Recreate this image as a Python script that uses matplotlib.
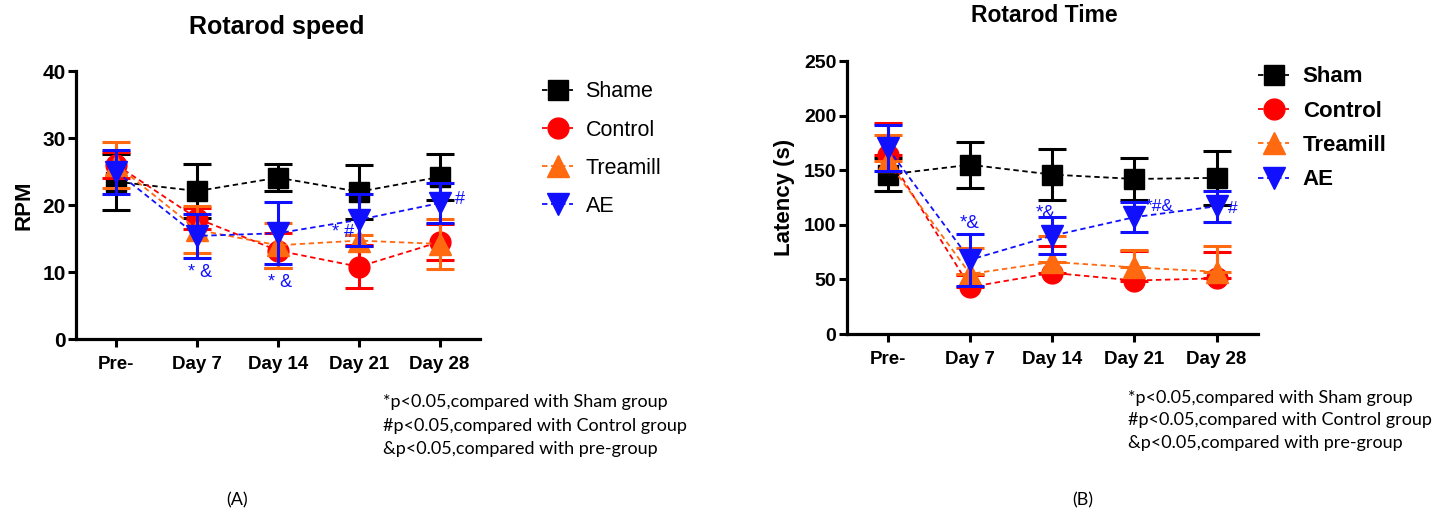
import matplotlib
matplotlib.use("Agg")
import matplotlib.pyplot as plt

days = ["Pre-", "Day 7", "Day 14", "Day 21", "Day 28"]
groups_a = ["Shame", "Control", "Treamill", "AE"]
groups_b = ["Sham", "Control", "Treamill", "AE"]

# Rotarod speed (RPM), mean and SD
rpm_sham = [23.5, 22.1, 24.1, 22.0, 24.2]
rpm_sham_sd = [4.2, 4.0, 2.0, 4.0, 3.5]
rpm_control = [26.0, 18.0, 13.2, 10.8, 14.5]
rpm_control_sd = [2.0, 1.5, 2.6, 3.2, 2.7]
rpm_tread = [26.0, 16.3, 14.0, 14.7, 14.2]
rpm_tread_sd = [3.4, 3.5, 3.4, 0.8, 3.7]
rpm_ae = [25.0, 15.4, 15.8, 17.8, 20.3]
rpm_ae_sd = [3.3, 3.3, 4.6, 3.9, 3.0]

# Rotarod time (latency, s), mean and SD
lat_sham = [146, 155, 146, 142, 143]
lat_sham_sd = [15, 21, 23, 19, 25]
lat_control = [164, 43, 56, 49, 51]
lat_control_sd = [29, 11, 25, 27, 24]
lat_tread = [158, 55, 66, 61, 57]
lat_tread_sd = [24, 24, 24, 16, 24]
lat_ae = [170, 68, 90, 107, 117]
lat_ae_sd = [21, 24, 17, 14, 14]
no_lower = [0, 0, 0, 0, 0]

notes = ["*p<0.05,compared with Sham group",
         "#p<0.05,compared with Control group",
         "&p<0.05,compared with pre-group"]

colors = ["black", "#ff0000", "#ff6a10", "#1010ff"]
markers = ["s", "o", "^", "v"]
msizes = [15, 15, 16, 16]

plt.rcParams['font.family'] = ['Liberation Sans', 'DejaVu Sans']

fig = plt.figure(figsize=(14.45, 5.16), dpi=100)
ax_a = fig.add_axes([0.0526, 0.343, 0.2796, 0.519])
ax_b = fig.add_axes([0.586, 0.3527, 0.2844, 0.529])


def draw(ax, series, names, ymax, ystep, ylabel, ysize):
    handles = []
    x = list(range(len(days)))
    for (mean, err), c, m, ms, name in zip(series, colors, markers, msizes, names):
        ax.errorbar(x, mean, yerr=err, fmt='none', ecolor=c, elinewidth=2.2,
                    capsize=10, capthick=2.2)
        h, = ax.plot(x, mean, linestyle=(0, (3, 2)), linewidth=1.3, color=c,
                     marker=m, markersize=ms, label=name)
        handles.append(h)
    ax.set_xlim(-0.5, 4.5)
    ax.set_ylim(0, ymax)
    ax.set_yticks(range(0, ymax + 1, ystep))
    ax.set_xticks(x)
    ax.set_xticklabels(days)
    for s in ["top", "right"]:
        ax.spines[s].set_visible(False)
    for s in ["left", "bottom"]:
        ax.spines[s].set_linewidth(2.3)
    ax.tick_params(width=2.2, length=6)
    ax.tick_params(axis="x", labelsize=13.5, pad=6)
    ax.tick_params(axis="y", labelsize=ysize, pad=1.5)
    for lab in ax.get_xticklabels() + ax.get_yticklabels():
        lab.set_fontweight("bold")
    ax.set_ylabel(ylabel, fontsize=16, fontweight="bold")
    return handles


h_a = draw(ax_a, [(rpm_sham, rpm_sham_sd), (rpm_control, rpm_control_sd),
                  (rpm_tread, rpm_tread_sd), (rpm_ae, rpm_ae_sd)],
           groups_a, 40, 10, "RPM", 15)
h_b = draw(ax_b, [(lat_sham, lat_sham_sd),
                  (lat_control, [no_lower, lat_control_sd]),
                  (lat_tread, [no_lower, lat_tread_sd]),
                  (lat_ae, lat_ae_sd)],
           groups_b, 250, 50, "Latency (s)", 14)
ax_a.yaxis.set_label_coords(-0.103, 0.5)
ax_b.yaxis.set_label_coords(-0.126, 0.5)

fig.legend(handles=h_a, loc="upper left", bbox_to_anchor=(0.362, 0.88),
           frameon=False, fontsize=15.5, handlelength=1.4, labelspacing=0.8,
           handletextpad=0.6)
fig.legend(handles=h_b, loc="upper left", bbox_to_anchor=(0.857, 0.91),
           frameon=False, prop={"size": 16, "weight": "bold"},
           handlelength=1.4, labelspacing=0.6, handletextpad=0.6)

fig.text(277 / 1445, 1 - 27 / 516, "Rotarod speed", ha="center", va="center",
         fontsize=18, fontweight="bold")
fig.text(1044 / 1445, 1 - 16 / 516, "Rotarod Time", ha="center", va="center",
         fontsize=16.5, fontweight="bold")

blue = colors[3]
ax_a.text(1.04, 9.9, "* &", color=blue, ha="center", va="center", fontsize=13)
ax_a.text(2.03, 8.4, "* &", color=blue, ha="center", va="center", fontsize=13)
ax_a.text(2.8, 15.9, "* #", color=blue, ha="center", va="center", fontsize=13)
ax_a.text(4.25, 20.8, "#", color=blue, ha="center", va="center", fontsize=13)
ax_b.text(1.0, 101, "*&", color=blue, ha="center", va="center", fontsize=13.5)
ax_b.text(1.92, 110, "*&", color=blue, ha="center", va="center", fontsize=13.5)
ax_b.text(3.31, 117, "*#&", color=blue, ha="center", va="center", fontsize=12.5)
ax_b.text(4.2, 115, "#", color=blue, ha="center", va="center", fontsize=12.5)

for i, line in enumerate(notes):
    fig.text(383 / 1445, 1 - (402 + 23.5 * i) / 516, line, fontsize=13,
             family=["Lato", "DejaVu Sans"], va="center")
    fig.text(1128 / 1445, 1 - (398 + 22.5 * i) / 516, line, fontsize=13,
             family=["Lato", "DejaVu Sans"], va="center")

fig.text(237 / 1445, 1 - 500 / 516, "(A)", ha="center", va="center",
         fontsize=13, family=["Lato", "DejaVu Sans"])
fig.text(1083 / 1445, 1 - 500 / 516, "(B)", ha="center", va="center",
         fontsize=13, family=["Lato", "DejaVu Sans"])

fig.savefig("out.png", dpi=100)
